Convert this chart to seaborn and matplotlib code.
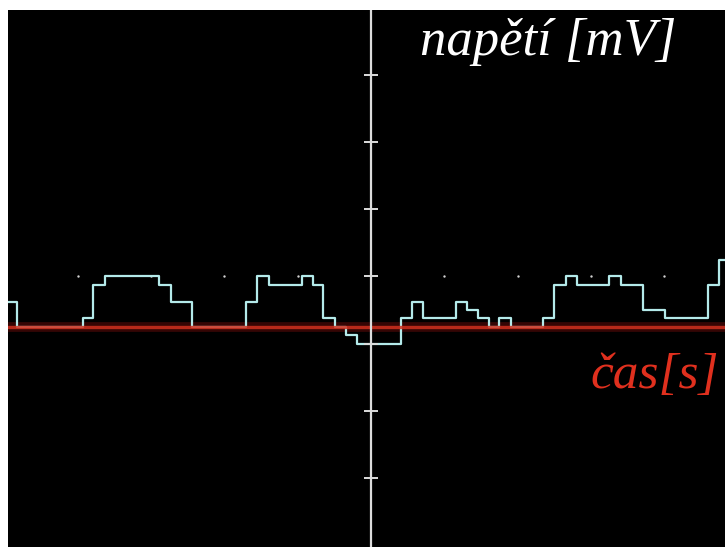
import numpy as np
import pandas as pd
import matplotlib
matplotlib.use("Agg")
import matplotlib.pyplot as plt
import seaborn as sns

# step edges of the trace (time in grid divisions, 0 = vertical axis)
t_edges = [-4.95, -4.83, -3.93, -3.79, -3.63, -2.89, -2.73, -2.44,
           -1.71, -1.56, -1.39, -0.94, -0.79, -0.65, -0.49, -0.34, -0.19,
           0.41, 0.56, 0.71, 1.16, 1.31, 1.46, 1.61, 1.75, 1.91,
           2.35, 2.50, 2.66, 2.81, 3.25, 3.41, 3.71, 4.01, 4.60, 4.75, 4.83]
# voltage level after each edge (quantisation steps)
levels = [3, 0, 1, 5, 6, 5, 3, 0,
          3, 6, 5, 6, 5, 1, 0, -1, -2,
          1, 3, 1, 3, 2, 1, 0, 1, 0,
          1, 5, 6, 5, 6, 5, 2, 1, 5, 8, 8]

y_ticks = [-18, -10, -2, 6, 14, 22, 30]
grid_t = [-4, -3, -2, -1, 1, 2, 3, 4]
grid_level = 6

y_label = "napětí [mV]"
x_label = "čas[s]"

df = pd.DataFrame({"t": t_edges, "u": levels})

sns.set_theme(style="dark", rc={"axes.facecolor": "black",
                                "figure.facecolor": "white"})
plt.rcParams['font.family'] = ['Liberation Serif', 'DejaVu Serif']

fig = plt.figure(figsize=(7.25, 5.47), dpi=100)
ax = fig.add_axes([8 / 725, 0, 717 / 725, 537 / 547])
ax.set_facecolor("black")

# signal trace
sns.lineplot(data=df, x="t", y="u", ax=ax, color="#b4eaea", lw=1.6,
             drawstyle="steps-post", estimator=None, sort=False, zorder=3)

# faint grid dots
ax.scatter(grid_t, [grid_level] * len(grid_t), s=3, color="#d0d0d0",
           zorder=2, linewidths=0)

# time axis (red) with a soft glow
ax.axhline(0, color="#5a0a08", lw=7, alpha=0.6, zorder=2)
ax.axhline(0, color="#d0301f", lw=2.4, alpha=0.85, zorder=4)

# voltage axis with ticks
ax.axvline(0, color="#dcdcdc", lw=1.6, zorder=5)
ax.plot([0] * len(y_ticks), y_ticks, linestyle="none", marker="_",
        markersize=10, mew=1.4, color="#dcdcdc", zorder=5)

ax.text(0.67, 32.4, y_label, color="white", fontsize=38, style="italic",
        va="baseline", ha="left", zorder=6)
ax.text(2.99, -7.3, x_label, color="#e0301e", fontsize=37, style="italic",
        va="baseline", ha="left", zorder=6)

ax.set_xlim(-4.95, 4.83)
ax.set_ylim(-26.2, 37.7)
ax.set_xlabel("")
ax.set_ylabel("")
ax.set_xticks([])
ax.set_yticks([])
for s in ax.spines.values():
    s.set_visible(False)

fig.savefig("out.png", dpi=100, facecolor="white")
